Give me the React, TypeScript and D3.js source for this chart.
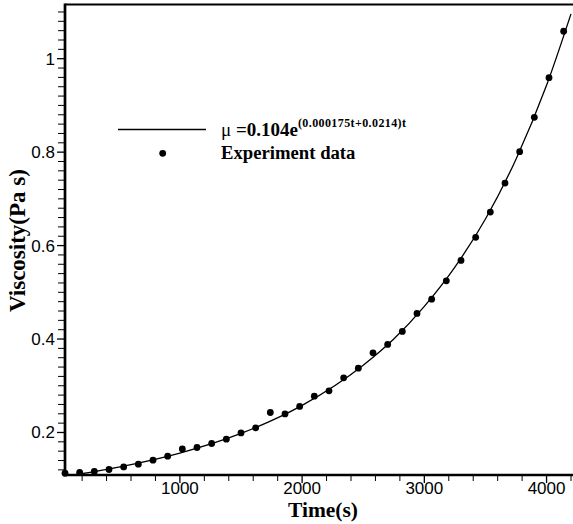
import React from "react";
import * as d3 from "d3";

const pointTimes = [60, 180, 300, 420, 540, 660, 780, 900, 1020, 1140, 1260, 1380, 1500, 1620, 1740, 1860, 1980, 2100, 2220, 2340, 2460, 2580, 2700, 2820, 2940, 3060, 3180, 3300, 3420, 3540, 3660, 3780, 3900, 4020, 4140];
const pointValues = [0.113, 0.1143, 0.1165, 0.1208, 0.1263, 0.1321, 0.1407, 0.1493, 0.1649, 0.1679, 0.1764, 0.1857, 0.1991, 0.2099, 0.2428, 0.2398, 0.2557, 0.2777, 0.2891, 0.3169, 0.3377, 0.3704, 0.3884, 0.4163, 0.4548, 0.4854, 0.5246, 0.5683, 0.6176, 0.6717, 0.7338, 0.8009, 0.8745, 0.9593, 1.0587];

const fitTimes = [60, 500, 1000, 1500, 2000, 2500, 2750, 3000, 3250, 3500, 3750, 4000, 4200];
const fitValues = [0.106, 0.126, 0.156, 0.198, 0.258, 0.344, 0.4, 0.47, 0.554, 0.657, 0.785, 0.943, 1.096];

const xMajorTicks = [1000, 2000, 3000, 4000];
const yMajorTicks = [0.2, 0.4, 0.6, 0.8, 1];
const yTickLabels = ["0.2", "0.4", "0.6", "0.8", "1"];

const serif = "'Liberation Serif', 'Times New Roman', serif";
const sans = "'Liberation Sans', Arial, sans-serif";

export default function App() {
  const W = 573, H = 524;
  const x = d3.scaleLinear().domain([60, 4200]).range([65, 571]);
  const y = d3.scaleLinear().domain([0.109, 1.116]).range([475, 4.5]);

  const xMinor = d3.range(200, 4201, 200).filter((t) => t % 1000 !== 0);
  const yMinor = d3.range(6, 56, 1).map((k) => +(k * 0.02).toFixed(2)).filter((v) => Math.round(v * 100) % 20 !== 0 && v <= 1.116 && v >= 0.109);

  const line = d3
    .line<number>()
    .x((_, i) => x(fitTimes[i]))
    .y((d) => y(d))
    .curve(d3.curveMonotoneX);

  const left = 65, bottom = 475, top = 4.5, right = 573;

  return (
    <svg width={W} height={H} style={{ position: "absolute", left: 0, top: 0, background: "#fff" }}>
      <defs>
        <clipPath id="plotclip">
          <rect x={left} y={top} width={right - left} height={bottom - top} />
        </clipPath>
      </defs>
      <rect x={0} y={0} width={W} height={H} fill="#fff" />
      <path d={line(fitValues) || ""} fill="none" stroke="#000" strokeWidth={1.3} clipPath="url(#plotclip)" />
      {pointTimes.map((t, i) => (
        <circle key={i} cx={x(t)} cy={y(pointValues[i])} r={3.4} fill="#000" />
      ))}

      {/* frame */}
      <line x1={left} x2={right} y1={top} y2={top} stroke="#000" strokeWidth={2.2} />
      <line x1={left} x2={left} y1={top - 1} y2={bottom + 1.3} stroke="#000" strokeWidth={2.7} />
      <line x1={left - 1.3} x2={right} y1={bottom} y2={bottom} stroke="#000" strokeWidth={2.7} />

      {/* x ticks */}
      {xMinor.map((t) => (
        <line key={"xm" + t} x1={x(t)} x2={x(t)} y1={bottom} y2={bottom + 6} stroke="#000" strokeWidth={1} />
      ))}
      {xMajorTicks.map((t) => (
        <g key={"xM" + t}>
          <line x1={x(t)} x2={x(t)} y1={bottom} y2={bottom + 8} stroke="#000" strokeWidth={1.3} />
          <text x={x(t)} y={494} textAnchor="middle" fontFamily={sans} fontSize={17}>
            {t}
          </text>
        </g>
      ))}

      {/* y ticks */}
      {yMinor.map((v) => (
        <line key={"ym" + v} x1={left - 7} x2={left} y1={y(v)} y2={y(v)} stroke="#000" strokeWidth={1} />
      ))}
      {yMajorTicks.map((v, i) => (
        <g key={"yM" + v}>
          <line x1={left - 8} x2={left} y1={y(v)} y2={y(v)} stroke="#000" strokeWidth={1.3} />
          <text x={55} y={y(v) + 6} textAnchor="end" fontFamily={sans} fontSize={17}>
            {yTickLabels[i]}
          </text>
        </g>
      ))}

      {/* axis titles */}
      <text x={323} y={517} textAnchor="middle" fontFamily={serif} fontWeight="bold" fontSize={21.5}>
        Time(s)
      </text>
      <text
        transform="translate(25,240.5) rotate(-90)"
        textAnchor="middle"
        fontFamily={serif}
        fontWeight="bold"
        fontSize={23}
      >
        Viscosity(Pa s)
      </text>

      {/* legend */}
      <line x1={118} x2={206} y1={129.5} y2={129.5} stroke="#000" strokeWidth={1.3} />
      <circle cx={162.7} cy={153.3} r={3.4} fill="#000" />
      <text x={221} y={136} fontFamily={serif} fontSize={19}>
        <tspan>μ </tspan>
        <tspan fontWeight="bold">=0.104e</tspan>
        <tspan fontWeight="bold" fontSize={12} dy={-9} letterSpacing={0.4}>(0.000175t+0.0214)t</tspan>
      </text>
      <text x={221} y={159} fontFamily={serif} fontWeight="bold" fontSize={18.7}>
        Experiment data
      </text>
    </svg>
  );
}
